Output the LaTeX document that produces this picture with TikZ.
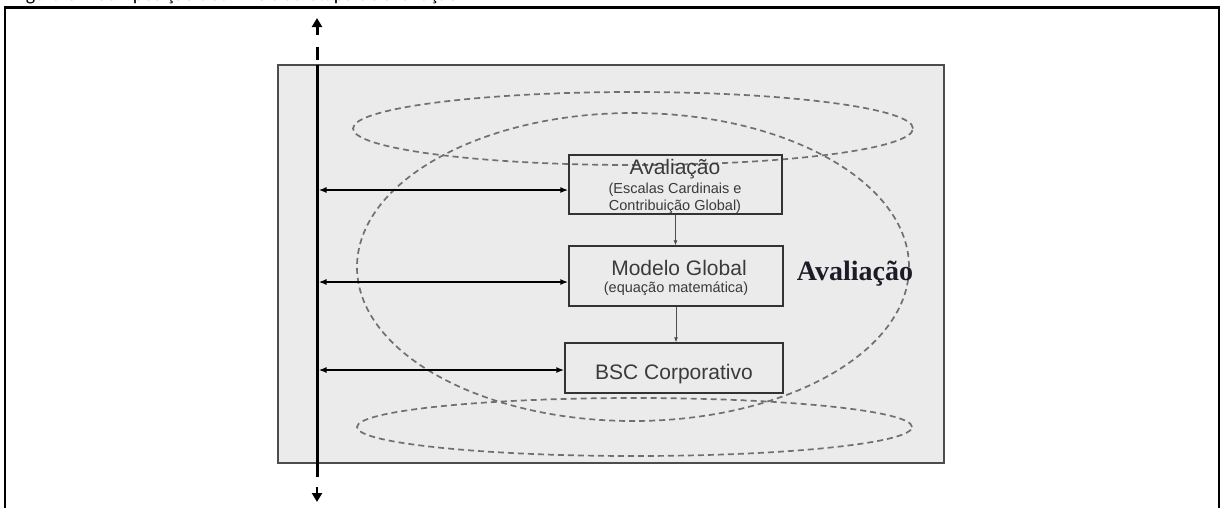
\documentclass[tikz,border=0pt]{standalone}
\usepackage{fontspec}
\setmainfont{Liberation Serif}
\newfontfamily\arialf{Liberation Sans}
\newfontfamily\calibf{Carlito}
\usetikzlibrary{arrows.meta}
\definecolor{panelgray}{HTML}{EBEBEB}
\definecolor{panelline}{HTML}{4D4D4D}
\definecolor{boxline}{HTML}{333333}
\definecolor{boxtext}{HTML}{3A3A3A}
\definecolor{dashgray}{HTML}{707070}
\definecolor{titletext}{HTML}{1C1C28}
\tikzset{
  frameline/.style={draw=black, line width=2.2pt},
  panel/.style={fill=panelgray, draw=panelline, line width=1.5pt},
  dashell/.style={draw=dashgray, line width=1.7pt, dash pattern=on 6pt off 4pt},
  stepbox/.style={rectangle, draw=boxline, line width=1.4pt, inner sep=0pt},
  bigtext/.style={font=\arialf\fontsize{21}{21}\selectfont, text=boxtext, inner sep=0pt, anchor=base},
  smalltext/.style={font=\arialf\fontsize{14.5}{14.5}\selectfont, text=boxtext, inner sep=0pt, anchor=base},
  axisline/.style={draw=black, line width=3pt},
  sidearrow/.style={draw=black, line width=2.2pt, {Latex[length=8pt,width=6pt]}-{Latex[length=8pt,width=6pt]}},
  downarrow/.style={draw=panelline, line width=0.8pt, -{Latex[length=5pt,width=4pt]}},
}
\begin{document}
\begin{tikzpicture}[x=1pt,y=-1pt]
\useasboundingbox (0,0) rectangle (1230,507);
% caption (cut off at the top)
\node[anchor=base west, inner sep=0pt, font=\calibf\fontsize{20}{20}\selectfont] (cap) at (12,0.5) {Figura 3 – Composição dos níveis da etapa de avaliação};
% outer frame
\draw[frameline] (5,7.5) rectangle (1219,540);
% grey panel
\draw[panel] (278,65) rectangle (944,463);
% dashed ellipses
\draw[dashell] (633,128.5) ellipse [x radius=280pt, y radius=36.5pt];
\draw[dashell] (633,267) ellipse [x radius=276pt, y radius=154pt];
\draw[dashell] (634.5,427) ellipse [x radius=277.5pt, y radius=29pt];
% boxes
\node[stepbox, minimum width=213pt, minimum height=59pt] (box1) at (675.5,184.5) {};
\node[stepbox, minimum width=214pt, minimum height=60pt] (box2) at (676,276) {};
\node[stepbox, minimum width=218pt, minimum height=50pt] (box3) at (674,368) {};
% box texts
\node[bigtext] (t1a) at (675,174) {Avaliação};
\node[smalltext] (t1b) at (675,193) {(Escalas Cardinais e};
\node[smalltext] (t1c) at (675,210) {Contribuição Global)};
\node[bigtext] (t2a) at (679,275) {Modelo Global};
\node[smalltext] (t2b) at (676,292) {(equação matemática)};
\node[bigtext] (t3a) at (674,379) {BSC Corporativo};
% side label
\node[anchor=base, inner sep=0pt, font=\fontsize{28}{28}\selectfont\bfseries, text=titletext] (lab) at (855,280) {Avaliação};
% vertical axis
\coordinate (atop) at (317,18);
\coordinate (astemtop) at (317,35);
\coordinate (dash1a) at (317,47);
\coordinate (dash1b) at (317,60);
\coordinate (vtop) at (317,65);
\coordinate (vbot) at (317,477);
\coordinate (dstemtop) at (317,487);
\coordinate (abot) at (317,502);
\draw[axisline] (vtop) -- (vbot);
\draw[axisline] (dash1a) -- (dash1b);
\draw[axisline, -{Triangle[length=9pt,width=10pt]}] (astemtop) -- (atop);
\draw[line width=2.5pt, -{Triangle[length=9pt,width=10pt]}] (dstemtop) -- (abot);
% side arrows
\coordinate (v1) at (318.5,190);
\coordinate (v2) at (318.5,282);
\coordinate (v3) at (318.5,370);
\draw[sidearrow] (v1) -- (box1.west |- v1);
\draw[sidearrow] (v2) -- (box2.west |- v2);
\draw[sidearrow] (v3) -- (box3.west |- v3);
% vertical flow arrows
\draw[downarrow] (box1.south) -- (box1.south |- box2.north);
\draw[downarrow] (box2.south) -- (box2.south |- box3.north);
\end{tikzpicture}
\end{document}
